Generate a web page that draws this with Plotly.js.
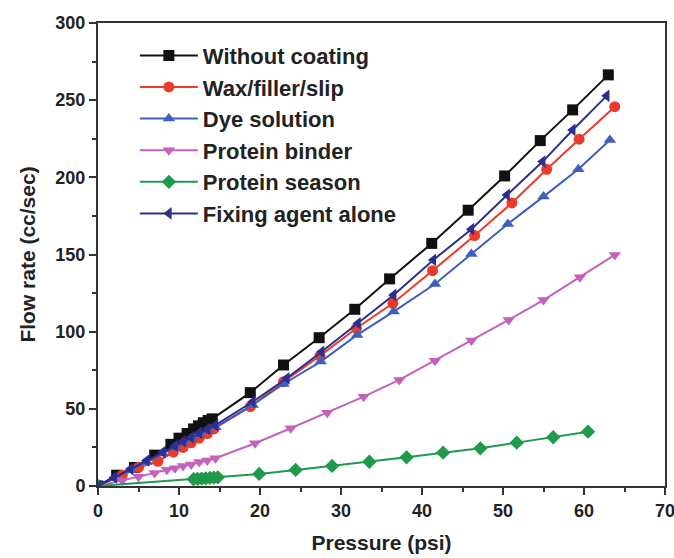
<!DOCTYPE html>
<html>
<head>
<meta charset="utf-8">
<script src="https://cdn.plot.ly/plotly-3.0.1.min.js"></script>
<style>html,body{margin:0;padding:0;background:#fff;}#chart{width:674px;height:558px;}</style>
</head>
<body>
<div id="chart"></div>
<script>
// Series names
const seriesNames = ["Without coating", "Wax/filler/slip", "Dye solution", "Protein binder", "Protein season", "Fixing agent alone"];

// Without coating
const noCoatX = [0, 2.3, 4.5, 7, 9, 10, 11, 11.8, 12.4, 13, 13.6, 14.1, 18.8, 22.9, 27.3, 31.7, 36.0, 41.2, 45.7, 50.2, 54.6, 58.6, 63.0];
const noCoatY = [0, 7, 12, 20, 27, 31, 34, 37, 39, 41, 42.5, 43.5, 60.5, 78.4, 96.1, 114.5, 134.2, 157.2, 178.7, 200.9, 223.8, 243.7, 266.4];

// Wax/filler/slip
const waxX = [0, 3, 5, 7.4, 9.3, 10.5, 11.5, 12.5, 13.5, 14.3, 18.8, 22.9, 27.4, 31.9, 36.4, 41.3, 46.5, 51.1, 55.4, 59.4, 63.8];
const waxY = [0, 7, 12, 16, 22, 25, 28, 31, 34, 37, 51.4, 67.6, 84.3, 102.2, 118.4, 139.5, 162.3, 183.4, 205.2, 224.7, 245.8];

// Dye solution
const dyeX = [0, 2, 4, 6, 8, 9.5, 10.5, 11.5, 12.5, 13.5, 14.5, 19.1, 22.9, 27.5, 32.0, 36.5, 41.6, 46.1, 50.6, 55.0, 59.3, 63.2];
const dyeY = [0, 5, 10, 15.5, 21, 25, 28, 30.5, 33, 35.5, 38, 52.5, 66.1, 80.6, 97.9, 113.0, 130.9, 150.4, 169.8, 187.5, 205.2, 224.2];

// Protein binder
const binderX = [0, 3, 5, 7, 8.5, 9.5, 10.5, 11.5, 12.5, 13.5, 14.5, 19.4, 23.8, 28.3, 32.8, 37.2, 41.6, 46.1, 50.7, 55.0, 59.5, 63.8];
const binderY = [0, 3.5, 6, 8.5, 10.5, 11.5, 13, 14, 15.5, 16.5, 18, 27.7, 37.4, 47.5, 57.9, 68.7, 81.2, 94.2, 107.6, 120.5, 135.3, 149.7];

// Protein season
const seasonX = [0, 11.8, 12.3, 12.8, 13.3, 13.8, 14.3, 14.8, 19.9, 24.4, 28.9, 33.5, 38.1, 42.6, 47.2, 51.7, 56.2, 60.5];
const seasonY = [0, 4.4, 4.6, 4.8, 5.0, 5.2, 5.4, 5.6, 7.8, 10.4, 13.0, 15.7, 18.6, 21.6, 24.4, 28.1, 31.6, 35.2];

// Fixing agent alone
const fixX = [0, 2, 4, 6, 8, 9.5, 10.5, 11.5, 12.5, 13.5, 14.5, 19.1, 23.3, 27.6, 32.1, 36.5, 41.4, 46.1, 50.5, 54.9, 58.6, 62.8];
const fixY = [0, 5.5, 11, 16.5, 22, 26, 29, 31.5, 34.5, 37, 39.5, 54.6, 69.8, 87.0, 105.4, 123.8, 146.5, 166.4, 188.6, 210.2, 230.7, 252.8];

// Axis ticks
const xTicks = [0, 10, 20, 30, 40, 50, 60, 70];
const yTicks = [0, 50, 100, 150, 200, 250, 300];

const colors = ["#111111", "#ee3a2a", "#3d5fc0", "#c462ba", "#1e9a4a", "#2b2f8f"];
const symbols = ["square", "circle", "triangle-up", "triangle-down", "diamond", "triangle-left"];
const xs = [noCoatX, waxX, dyeX, binderX, seasonX, fixX];
const ys = [noCoatY, waxY, dyeY, binderY, seasonY, fixY];

const traces = seriesNames.map((n, i) => ({
  type: "scatter",
  mode: "lines+markers",
  name: n,
  legendgroup: "g" + i,
  x: xs[i],
  y: ys[i],
  line: {color: colors[i], width: 2},
  marker: {color: colors[i], symbol: symbols[i], size: 11, line: {width: 0}}
}));

const fontFam = "Liberation Sans, Arial, sans-serif";
const layout = {
  width: 674, height: 558,
  margin: {l: 98, r: 9, t: 23, b: 72},
  paper_bgcolor: "#fff", plot_bgcolor: "#fff",
  font: {family: fontFam, color: "#222", weight: 700},
  showlegend: true,
  legend: {
    x: 0.065, y: 0.975, xanchor: "left", yanchor: "top",
    bgcolor: "rgba(0,0,0,0)",
    font: {size: 22, family: fontFam, color: "#222", weight: 700},
    tracegroupgap: 0,
    itemwidth: 58
  },
  xaxis: {
    range: [0, 70], tickvals: xTicks, ticktext: xTicks.map(String),
    showgrid: false, zeroline: false,
    showline: true, linecolor: "#333", linewidth: 2, mirror: true,
    ticks: "outside", ticklen: 7, tickwidth: 2, tickcolor: "#333",
    minor: {dtick: 5, tick0: 0, ticks: "outside", ticklen: 4, tickwidth: 2, tickcolor: "#333"},
    ticklabeloverflow: "allow",
    tickfont: {size: 18, family: fontFam, color: "#222", weight: 700},
    title: {text: "Pressure (psi)", font: {size: 21, family: fontFam, color: "#222", weight: 700}, standoff: 16}
  },
  yaxis: {
    range: [0, 300], tickvals: yTicks, ticktext: yTicks.map(String),
    showgrid: false, zeroline: false,
    showline: true, linecolor: "#333", linewidth: 2, mirror: true,
    ticks: "outside", ticklen: 7, tickwidth: 2, tickcolor: "#333",
    minor: {dtick: 25, tick0: 0, ticks: "outside", ticklen: 4, tickwidth: 2, tickcolor: "#333"},
    ticklabeloverflow: "allow",
    tickfont: {size: 18, family: fontFam, color: "#222", weight: 700},
    title: {text: "Flow rate (cc/sec)", font: {size: 21, family: fontFam, color: "#222", weight: 700}, standoff: 14}
  }
};

Plotly.newPlot("chart", traces, layout, {displayModeBar: false, staticPlot: true});
</script>
</body>
</html>
